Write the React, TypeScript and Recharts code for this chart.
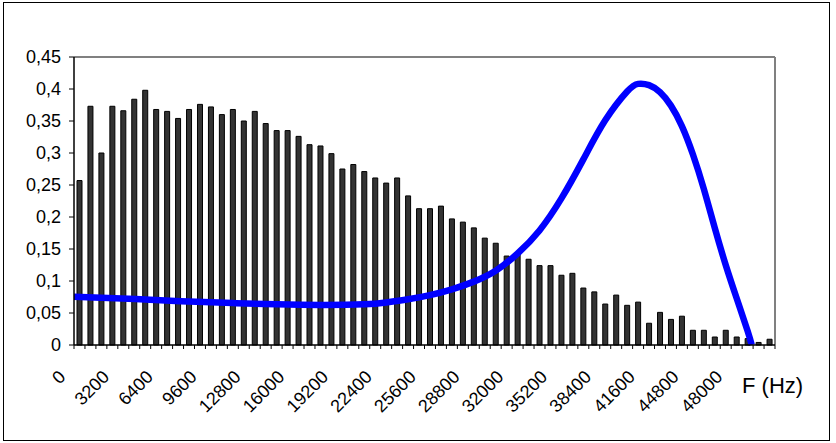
import React from "react";
import {
  ComposedChart,
  Bar,
  Line,
  XAxis,
  YAxis,
  ReferenceLine,
} from "recharts";

// frequency bins (Hz), one bar every 800 Hz
const freqs = [
  0, 800, 1600, 2400, 3200, 4000, 4800, 5600, 6400, 7200, 8000, 8800, 9600,
  10400, 11200, 12000, 12800, 13600, 14400, 15200, 16000, 16800, 17600, 18400,
  19200, 20000, 20800, 21600, 22400, 23200, 24000, 24800, 25600, 26400, 27200,
  28000, 28800, 29600, 30400, 31200, 32000, 32800, 33600, 34400, 35200, 36000,
  36800, 37600, 38400, 39200, 40000, 40800, 41600, 42400, 43200, 44000, 44800,
  45600, 46400, 47200, 48000, 48800, 49600, 50400,
];

const amplitudes = [
  0.257, 0.373, 0.3, 0.373, 0.366, 0.384, 0.398, 0.368, 0.365, 0.354, 0.368,
  0.376, 0.372, 0.36, 0.368, 0.35, 0.365, 0.346, 0.335, 0.335, 0.326, 0.313,
  0.311, 0.299, 0.275, 0.282, 0.271, 0.261, 0.253, 0.261, 0.233, 0.213, 0.213,
  0.217, 0.197, 0.192, 0.183, 0.167, 0.159, 0.139, 0.142, 0.134, 0.124, 0.124,
  0.109, 0.112, 0.089, 0.083, 0.064, 0.078, 0.062, 0.067, 0.034, 0.051, 0.04,
  0.045, 0.023, 0.023, 0.0125, 0.023, 0.0125, 0.01, 0.004, 0.009,
];

// fitted curve
const curveHz = [
  -400, 1600, 4800, 8000, 11200, 14400, 17600, 20800, 22400, 24000, 25600,
  27200, 28800, 30400, 32000, 33600, 35200, 36800, 38400, 40000, 40800, 41600,
  42400, 43200, 44000, 44800, 45600, 46400, 47200, 48000, 48800, 49100,
];
const curveVal = [
  0.0755, 0.074, 0.071, 0.068, 0.0655, 0.0635, 0.0625, 0.0635, 0.0665, 0.0715,
  0.078, 0.087, 0.099, 0.116, 0.143, 0.179, 0.229, 0.29, 0.351, 0.396, 0.408,
  0.406, 0.395, 0.374, 0.342, 0.298, 0.244, 0.183, 0.125, 0.073, 0.022, 0,
];

const yTicks = [0, 0.05, 0.1, 0.15, 0.2, 0.25, 0.3, 0.35, 0.4, 0.45];

const data = freqs.map((f, i) => ({ f: String(f), a: amplitudes[i] }));
const curve = curveHz.map((hz, i) => ({ hz, v: curveVal[i] }));

const FONT = "Liberation Sans, Arial, sans-serif";

const fmt = (v: number) => String(Number(v.toFixed(2))).replace(".", ",");

function FreqTick(props: any) {
  const { x, y, index, payload } = props;
  const half = payload && payload.offset ? payload.offset : 5.48;
  const showLabel = index % 4 === 0;
  return (
    <g>
      <line x1={x - half} y1={y - 8} x2={x - half} y2={y - 4} stroke="#000" />
      {index === freqs.length - 1 && (
        <line x1={x + half} y1={y - 8} x2={x + half} y2={y - 4} stroke="#000" />
      )}
      {showLabel && (
        <text
          x={x - 13}
          y={y + 25}
          textAnchor="end"
          transform={`rotate(-45, ${x - 13}, ${y + 25})`}
          fontSize={18}
          fontFamily={FONT}
          fill="#000"
        >
          {payload.value}
        </text>
      )}
    </g>
  );
}

export default function App() {
  return (
    <div
      style={{
        position: "absolute",
        left: 0,
        top: 0,
        width: 836,
        height: 443,
        background: "#fff",
      }}
    >
      <div
        style={{
          position: "absolute",
          left: 3,
          top: 2,
          width: 825,
          height: 437,
          border: "1.5px solid #000",
        }}
      />
      <div style={{ position: "absolute", left: 0, top: 0 }}>
        <ComposedChart
          width={836}
          height={443}
          data={data}
          margin={{ top: 57, right: 61, bottom: 0, left: 0 }}
          barCategoryGap={0}
        >
          <XAxis
            dataKey="f"
            interval={0}
            height={98}
            tickLine={false}
            axisLine={{ stroke: "#000", strokeWidth: 1.5 }}
            tick={<FreqTick />}
          />
          <XAxis
            xAxisId="hz"
            dataKey="hz"
            type="number"
            domain={[-400, 50800]}
            allowDataOverflow
            hide
          />
          <YAxis
            domain={[0, 0.45]}
            ticks={yTicks}
            width={74}
            interval={0}
            tickSize={5}
            tickMargin={8}
            tickFormatter={fmt}
            axisLine={{ stroke: "#000", strokeWidth: 1.5 }}
            tickLine={{ stroke: "#000" }}
            tick={{ fontSize: 18, fontFamily: FONT, fill: "#000" }}
          />
          <ReferenceLine y={0.45} stroke="#808080" strokeWidth={2} />
          <ReferenceLine
            xAxisId="hz"
            x={50800}
            stroke="#808080"
            strokeWidth={2}
          />
          <Bar
            dataKey="a"
            fill="#333333"
            stroke="#000"
            strokeWidth={1}
            barSize={5}
            isAnimationActive={false}
          />
          <Line
            xAxisId="hz"
            data={curve}
            dataKey="v"
            type="natural"
            stroke="#0000ff"
            strokeWidth={6.5}
            dot={false}
            activeDot={false}
            isAnimationActive={false}
          />
        </ComposedChart>
      </div>
      <div
        style={{
          position: "absolute",
          left: 742,
          top: 373,
          fontSize: 22,
          fontFamily: FONT,
          color: "#000",
          whiteSpace: "nowrap",
        }}
      >
        F (Hz)
      </div>
    </div>
  );
}
